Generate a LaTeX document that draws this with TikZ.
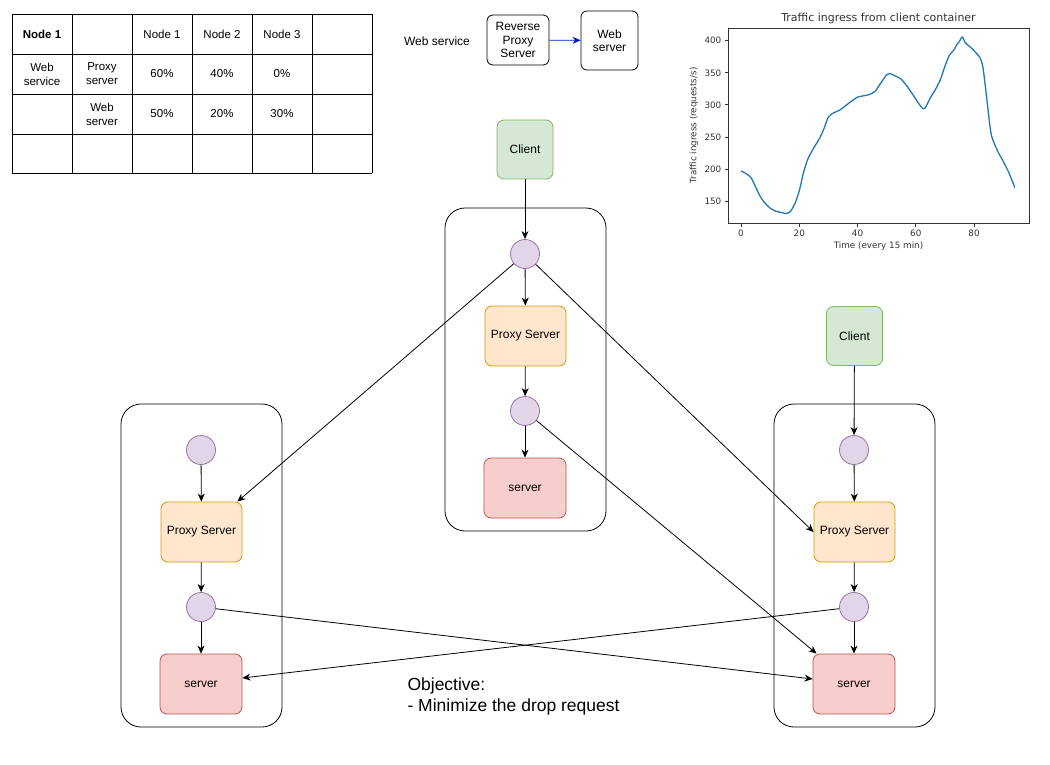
\documentclass[tikz,border=0pt]{standalone}
\usepackage{fontspec}
\setmainfont{Liberation Sans}
\newfontfamily\plotfont{DejaVu Sans}
\usetikzlibrary{arrows.meta,calc}

\definecolor{cfill}{HTML}{D5E8D4}\definecolor{cline}{HTML}{82B366}
\definecolor{pfill}{HTML}{FFE6CC}\definecolor{pline}{HTML}{D79B00}
\definecolor{sfill}{HTML}{F8CECC}\definecolor{sline}{HTML}{B85450}
\definecolor{hfill}{HTML}{E1D5E7}\definecolor{hline}{HTML}{9673A6}
\definecolor{legblue}{HTML}{001DBC}
\definecolor{plotblue}{HTML}{1F77B4}
\definecolor{axiscol}{HTML}{333333}

\begin{document}
\begin{tikzpicture}[x=1pt,y=-1pt,
  lbl/.style={font=\fontsize{12}{14}\selectfont},
  box/.style={draw, rounded corners=7, minimum width=81, minimum height=60,
              inner sep=0, line width=0.8, lbl},
  client/.style={box, fill=cfill, draw=cline, minimum width=56, minimum height=59},
  proxy/.style={box, fill=pfill, draw=pline},
  srv/.style={box, fill=sfill, draw=sline, minimum width=82},
  hub/.style={circle, draw=hline, fill=hfill, minimum size=29, inner sep=0, line width=0.8},
  container/.style={draw, rounded corners=20, line width=0.8, minimum width=161, minimum height=323},
  link/.style={line width=0.8, -{Stealth[length=8pt,width=7pt,inset=2.5pt]}},
  cell/.style={align=center, font=\fontsize{11.5}{14}\selectfont},
  tick/.style={font=\plotfont\fontsize{8.8}{10}\selectfont, text=axiscol},
  legbox/.style={draw, rounded corners=6, align=center, line width=0.8, inner sep=0,
                 font=\fontsize{12}{13.5}\selectfont}
]
\useasboundingbox (0,0) rectangle (1050,765);

% ---------- allocation table ----------
\foreach \x in {12,72,132,192,252,312,372} \draw[line width=0.8] (\x,14) -- (\x,173);
\foreach \y in {14,54,94,134,173} \draw[line width=0.8] (12,\y) -- (372,\y);
\node[cell, font=\bfseries\fontsize{11.5}{14}\selectfont] (t11) at (42,34) {Node 1};
\node[cell] (t13) at (162,34) {Node 1};
\node[cell] (t14) at (222,34) {Node 2};
\node[cell] (t15) at (282,34) {Node 3};
\node[cell] (t21) at (42,74) {Web\\service};
\node[cell] (t22) at (102,74) {Proxy\\server};
\node[cell] (t23) at (162,74) {60\%};
\node[cell] (t24) at (222,74) {40\%};
\node[cell] (t25) at (282,74) {0\%};
\node[cell] (t32) at (102,114) {Web\\server};
\node[cell] (t33) at (162,114) {50\%};
\node[cell] (t34) at (222,114) {20\%};
\node[cell] (t35) at (282,114) {30\%};

% ---------- web service legend ----------
\node[lbl] (wsl) at (437,41) {Web service};
\node[legbox, minimum width=62, minimum height=50] (rps) at (518,40) {Reverse\\Proxy\\Server};
\node[legbox, minimum width=57, minimum height=59] (wsv) at (609.5,40.5) {Web\\server};
\draw[legblue, line width=0.8, -{Stealth[length=8pt,width=7pt,inset=2.5pt]}] (rps) -- (wsv);

% ---------- traffic chart ----------
\node[font=\plotfont\fontsize{11}{13}\selectfont, text=axiscol] (ttl) at (878.5,18) {Traffic ingress from client container};
\draw[axiscol, line width=0.6] (728,28) rectangle (1029,223);
\foreach \v/\p in {0/741,20/799.25,40/857.5,60/915.75,80/974} {
  \draw[axiscol, line width=0.6] (\p,223) -- (\p,226.5);
  \node[tick] at (\p,233) {\v};
}
\foreach \v/\p in {150/201.0,200/168.96,250/136.9,300/104.8,350/72.8,400/40.7} {
  \draw[axiscol, line width=0.6] (728,\p) -- (724.5,\p);
  \node[tick, anchor=east, inner sep=1] at (722.5,\p) {\v};
}
\node[tick] (xl) at (878.5,246.5) {Time (every 15 min)};
\node[tick, rotate=90] (yl) at (694,125.5) {Traffic ingress (requests/s)};
\begin{scope}[shift={(741,297.2)}, xscale=2.9125, yscale=-0.6412]
\draw[plotblue, line width=1.3, line join=round] plot[smooth, tension=0.45] coordinates {
 (0,197) (2,192) (3.5,186) (5,172) (6.5,158) (8,148) (10,139) (12,134) (14,132)
 (15.5,130.5) (17,134) (18.5,146) (20,166) (21.5,195) (23,216) (25,233) (27,248)
 (28.5,263) (30,281) (32,288) (34,292) (36,299) (38,306) (40,312) (42,314) (44,316)
 (46,321) (48,334) (50,347) (51,349) (53,345) (55,340) (57,329) (59,316) (61,302)
 (62.5,294) (63.5,297) (65,311) (67,326) (68.5,340) (70,360) (71.5,377) (73,385)
 (74,393) (75,399) (76,406) (77,397) (79,389) (80.5,382) (82,374) (83,360) (84,325)
 (85,285) (86,252) (88,229) (90,212) (92,194) (94,171)};
\end{scope}

% ---------- containers ----------
\node[container] (mbox) at (525.5,369.5) {};
\node[container] (lbox) at (201.5,565.5) {};
\node[container] (rbox) at (854.5,565.5) {};

% ---------- middle node ----------
\node[client] (mcl) at (525,149.5) {Client};
\node[hub] (mh1) at (525,254) {};
\node[proxy] (mp) at (525.5,336) {Proxy Server};
\node[hub] (mh2) at (525,411) {};
\node[srv] (ms) at (525,488) {server};

% ---------- left node ----------
\node[hub] (lh1) at (201,450) {};
\node[proxy] (lp) at (201.5,532) {Proxy Server};
\node[hub] (lh2) at (201,607) {};
\node[srv] (ls) at (201,684) {server};

% ---------- right node ----------
\node[client] (rcl) at (854.5,336) {Client};
\node[hub] (rh1) at (854,450) {};
\node[proxy] (rp) at (854.5,532) {Proxy Server};
\node[hub] (rh2) at (854,607) {};
\node[srv] (rs) at (854,684) {server};

% ---------- connectors ----------
\draw[link] (mcl) -- (mh1);
\draw[link] (mh1) -- (mp);
\draw[link] (mp) -- (mh2);
\draw[link] (mh2) -- (ms);
\draw[link] (mh1) -- ($(lp.north east)+(-5,0)$);
\draw[link] (mh1) -- (rp.west);
\draw[link] (mh2) -- ($(rs.north west)+(4,0)$);

\draw[link] (lh1) -- (lp);
\draw[link] (lp) -- (lh2);
\draw[link] (lh2) -- (ls);
\draw[link] (lh2) -- ($(rs.west)+(0,-5)$);

\draw[link] (rcl) -- (rh1);
\draw[link] (rh1) -- (rp);
\draw[link] (rp) -- (rh2);
\draw[link] (rh2) -- (rs);
\draw[link] (rh2) -- ($(ls.east)+(0,-6)$);

% ---------- objective ----------
\node[anchor=west, align=left, font=\fontsize{17.5}{21}\selectfont] (obj) at (404,696.5)
  {Objective:\\- Minimize the drop request};
\end{tikzpicture}
\end{document}
